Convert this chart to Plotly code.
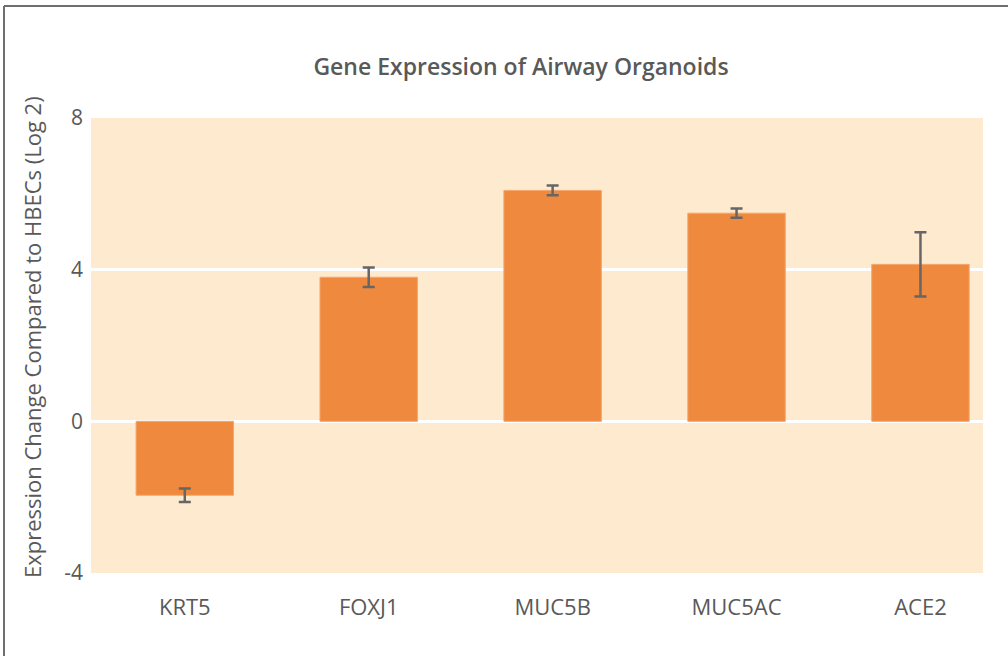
import plotly.graph_objects as go

genes = ["KRT5", "FOXJ1", "MUC5B", "MUC5AC", "ACE2"]
expression = [-1.95, 3.80, 6.09, 5.49, 4.14]
errors = [0.18, 0.26, 0.13, 0.12, 0.85]
y_ticks = [-4, 0, 4, 8]

W, H = 1008, 656
L, R, T, B = 91, 25, 118, 83
pw = W - L - R
ph = H - T - B

fig = go.Figure()
fig.add_trace(go.Bar(
    x=list(range(len(genes))),
    y=expression,
    width=0.53,
    marker=dict(color="#EF893D", line=dict(color="#F6A76C", width=1)),
    error_y=dict(type="data", array=errors, visible=True,
                 color="#666666", thickness=2.5, width=6),
    showlegend=False,
))

def px_x(px):
    return (px - L) / pw

def px_y(py):
    return (H - B - py) / ph

fig.update_layout(
    width=W, height=H,
    margin=dict(l=L, r=R, t=T, b=B, autoexpand=False),
    paper_bgcolor="white",
    plot_bgcolor="#FEEBCF",
    font=dict(family="Open Sans", color="#595959"),
    title=dict(text="Gene Expression of Airway Organoids",
               x=px_x(521), xref="paper", xanchor="center",
               y=1 - 67 / H, yanchor="middle",
               font=dict(family="Open Sans", size=23, color="#595959", weight=600)),
    xaxis=dict(
        tickmode="array",
        tickvals=list(range(len(genes))),
        ticktext=genes,
        range=[-0.51, 4.34],
        showgrid=False, zeroline=False, showline=False,
        ticks="",
        tickfont=dict(size=22, color="#595959"),
        ticklabelstandoff=19,
    ),
    yaxis=dict(
        range=[-4, 8],
        tickmode="array",
        tickvals=y_ticks,
        ticktext=[str(v) for v in y_ticks],
        showgrid=True, gridcolor="white", gridwidth=3,
        zeroline=True, zerolinecolor="white", zerolinewidth=3,
        showline=False, ticks="",
        tickfont=dict(size=21, color="#595959"),
        ticklabelstandoff=7,
    ),
    annotations=[dict(
        text="Expression Change Compared to HBECs (Log 2)",
        textangle=-90,
        x=px_x(32), y=px_y(337),
        xref="paper", yref="paper",
        xanchor="center", yanchor="middle",
        showarrow=False,
        font=dict(family="Open Sans", size=22, color="#595959"),
    )],
    shapes=[
        dict(type="line", xref="paper", yref="paper",
             x0=px_x(4), x1=px_x(1010), y0=px_y(6), y1=px_y(6),
             line=dict(color="#6E6E6E", width=2)),
        dict(type="line", xref="paper", yref="paper",
             x0=px_x(4), x1=px_x(4), y0=px_y(6), y1=px_y(660),
             line=dict(color="#6E6E6E", width=2)),
    ],
)

fig.write_html("out.html",
               config={"displayModeBar": False},
               post_script="document.body.style.margin='0';document.body.style.overflow='hidden';")
